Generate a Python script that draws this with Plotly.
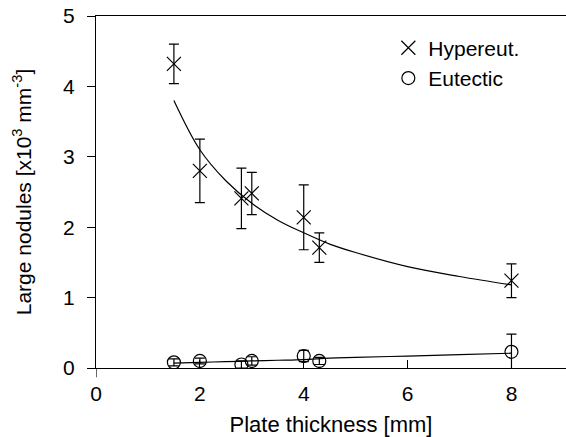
import plotly.graph_objects as go

# Measured data
thickness = [1.5, 2.0, 2.8, 3.0, 4.0, 4.3, 8.0]
hyper_vals = [4.32, 2.80, 2.41, 2.48, 2.14, 1.71, 1.24]
hyper_err = [0.28, 0.45, 0.43, 0.30, 0.46, 0.21, 0.24]
eut_vals = [0.08, 0.10, 0.05, 0.10, 0.17, 0.10, 0.23]
eut_err = [0.05, 0.04, 0.05, 0.06, 0.08, 0.05, 0.25]

# Fitted curves
fit_x = [1.5, 2.0, 2.5, 3.0, 3.5, 4.0, 4.5, 5.0, 6.0, 7.0, 8.0]
hyper_fit = [3.80, 3.10, 2.66, 2.34, 2.10, 1.92, 1.76, 1.64, 1.44, 1.30, 1.18]
eut_fit = [0.07, 0.08, 0.09, 0.10, 0.11, 0.12, 0.14, 0.15, 0.17, 0.19, 0.21]

x_ticks = [0, 2, 4, 6, 8]
y_ticks = [0, 1, 2, 3, 4, 5]

FONT = "Liberation Sans, Arial, sans-serif"

fig = go.Figure()

fig.add_trace(go.Scatter(x=fit_x, y=hyper_fit, mode="lines",
                         line=dict(color="black", width=1.2, shape="spline"),
                         showlegend=False, hoverinfo="skip"))
fig.add_trace(go.Scatter(x=fit_x, y=eut_fit, mode="lines",
                         line=dict(color="black", width=1.2, shape="spline"),
                         showlegend=False, hoverinfo="skip"))

fig.add_trace(go.Scatter(
    x=thickness, y=hyper_vals, mode="markers", name="Hypereut.",
    marker=dict(symbol="x-thin-open", size=14, color="black", line=dict(color="black", width=1.2)),
    error_y=dict(type="data", array=hyper_err, color="black", thickness=1.2, width=5),
))
fig.add_trace(go.Scatter(
    x=thickness, y=eut_vals, mode="markers", name="Eutectic",
    marker=dict(symbol="circle-open", size=13, color="black", line=dict(color="black", width=1.2)),
    error_y=dict(type="data", array=eut_err, color="black", thickness=1.2, width=5),
))

# small downward extension of the y axis below the origin
fig.add_shape(type="line", xref="x", yref="paper", x0=0, x1=0, y0=0, y1=-0.026,
              line=dict(color="black", width=1.2))

fig.update_layout(
    width=566, height=437,
    margin=dict(l=96, r=0, t=16, b=69, autoexpand=False),
    paper_bgcolor="white", plot_bgcolor="white",
    font=dict(family=FONT, size=21, color="black"),
    legend=dict(x=0.622, y=0.967, xanchor="left", yanchor="top",
                bgcolor="rgba(0,0,0,0)", font=dict(size=21), itemwidth=30,
                tracegroupgap=2),
    xaxis=dict(
        range=[0, 9.05], tickvals=x_ticks, ticks="inside", ticklen=8, tickwidth=1.2,
        tickcolor="black", showline=True, linecolor="black", linewidth=1.2,
        mirror=True, showgrid=False, zeroline=False, automargin=False,
        ticklabelstandoff=7, ticklabeloverflow="allow",
        title=dict(text="Plate thickness [mm]", standoff=12, font=dict(size=22)),
        tickfont=dict(size=21),
    ),
    yaxis=dict(
        range=[0, 5], tickvals=y_ticks, ticks="outside", ticklen=8, tickwidth=1.2,
        tickcolor="black", showline=True, linecolor="black", linewidth=1.2,
        showgrid=False, zeroline=False, automargin=False,
        ticklabelstandoff=8, ticklabeloverflow="allow",
        title=dict(text="Large nodules [x10<sup>3</sup> mm<sup>-3</sup>]", standoff=25, font=dict(size=21)),
        tickfont=dict(size=21),
    ),
)

fig.write_html("out.html", config={"displayModeBar": False},
               post_script="document.body.style.margin='0';")
